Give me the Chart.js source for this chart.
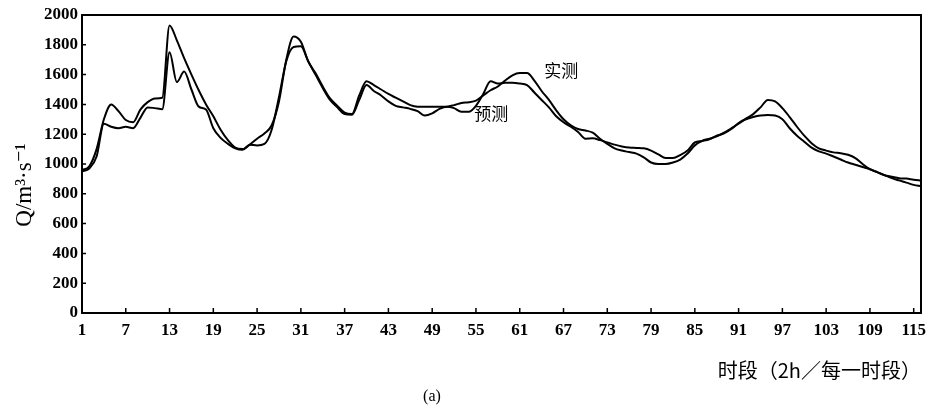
<!DOCTYPE html>
<html>
<head>
<meta charset="utf-8">
<script src="https://cdn.jsdelivr.net/npm/chart.js@4/dist/chart.umd.min.js"></script>
<style>
html, body { margin: 0; padding: 0; background: #fff; }
</style>
</head>
<body>
<canvas id="myChart" width="930" height="410"></canvas>
<script>
// 实测 / 预测 flow, one value per 2h period
var measured = [
  960, 985, 1100, 1300, 1400, 1355, 1295, 1280, 1365, 1415,
  1440, 1445, 1930, 1830, 1710, 1600, 1495, 1400, 1320, 1230,
  1160, 1110, 1100, 1130, 1170, 1205, 1260, 1420, 1700, 1855,
  1820, 1690, 1610, 1520, 1440, 1390, 1345, 1335, 1460, 1555,
  1530, 1500, 1470, 1445, 1420, 1395, 1385, 1385, 1385, 1385,
  1385, 1395, 1410, 1415, 1425, 1460, 1495, 1520, 1560, 1595,
  1610, 1610, 1560, 1490, 1430, 1360, 1300, 1260, 1235, 1225,
  1210, 1170, 1135, 1105, 1090, 1080, 1070, 1045, 1010, 1000,
  1000, 1010, 1030, 1070, 1125, 1155, 1170, 1185, 1210, 1240,
  1270, 1305, 1335, 1380, 1430, 1420, 1375, 1315, 1250, 1190,
  1140, 1105, 1090, 1078, 1072, 1062, 1040, 1000, 965, 945,
  925, 915, 905, 902, 895, 890
];
var predicted = [
  950, 970, 1050, 1270, 1250, 1240, 1250, 1240, 1310, 1380,
  1375, 1368, 1750, 1550, 1620, 1500, 1385, 1365, 1240, 1175,
  1135, 1105, 1095, 1130, 1125, 1135, 1230, 1450, 1690, 1785,
  1790, 1690, 1600, 1510, 1430, 1380, 1335, 1330, 1430, 1530,
  1490, 1460, 1420, 1390, 1380, 1370, 1355, 1325, 1340, 1370,
  1385, 1375, 1350, 1350, 1390, 1470, 1555, 1540, 1545, 1545,
  1540, 1530, 1480, 1430, 1380, 1320, 1280, 1250, 1215, 1170,
  1172, 1160, 1145, 1130, 1118, 1110, 1108, 1105, 1090, 1065,
  1040, 1040, 1060, 1090, 1145, 1155, 1165, 1190, 1205, 1235,
  1275, 1300, 1315, 1325, 1329, 1325, 1300, 1240, 1190, 1150,
  1110, 1085, 1070, 1050, 1030, 1010, 995, 980, 965, 945,
  925, 905, 890, 875, 860, 852
];
var periods = measured.map(function (v, i) { return i + 1; });
var xTicks = [1, 7, 13, 19, 25, 31, 37, 43, 49, 55, 61, 67, 73, 79, 85, 91, 97, 103, 109, 115];

var serif = '"Liberation Serif", "DejaVu Serif", serif';
var cjk = '"Noto Sans CJK SC", "Liberation Serif", sans-serif';

function points(arr) {
  return arr.map(function (v, i) { return {x: periods[i], y: v}; });
}

// box round the plot, inward ticks, and the loose texts
var frame = {
  id: 'frame',
  afterDatasetsDraw: function (chart) {
    var ctx = chart.ctx, a = chart.chartArea;
    var xs = chart.scales.x, ys = chart.scales.y;
    ctx.save();
    ctx.strokeStyle = '#000';
    ctx.lineWidth = 2;
    ctx.strokeRect(a.left, a.top, a.right - a.left, a.bottom - a.top);
    ctx.lineWidth = 1.5;
    ctx.beginPath();
    xTicks.forEach(function (t) {
      var px = xs.getPixelForValue(t);
      ctx.moveTo(px, a.bottom);
      ctx.lineTo(px, a.bottom - 5);
    });
    ys.ticks.forEach(function (t) {
      var py = ys.getPixelForValue(t.value);
      ctx.moveTo(a.left, py);
      ctx.lineTo(a.left + 4, py);
    });
    ctx.stroke();

    ctx.fillStyle = '#000';
    ctx.textAlign = 'center';
    ctx.textBaseline = 'middle';
    ctx.font = '17px ' + cjk;
    ctx.fillText('实测', xs.getPixelForValue(66.7), ys.getPixelForValue(1624));
    ctx.fillText('预测', xs.getPixelForValue(57.1), ys.getPixelForValue(1336));
    ctx.font = '16px ' + serif;
    ctx.fillText('(a)', 432, 397);
    ctx.translate(25, 185);
    ctx.rotate(-Math.PI / 2);
    ctx.font = '23px ' + serif;
    ctx.fillText('Q/m³·s⁻¹', 0, 0);
    ctx.restore();
  }
};

new Chart('myChart', {
  type: 'line',
  data: {
    datasets: [
      {label: '实测', data: points(measured), borderColor: '#000', borderWidth: 2,
       pointRadius: 0, cubicInterpolationMode: 'monotone'},
      {label: '预测', data: points(predicted), borderColor: '#000', borderWidth: 2,
       pointRadius: 0, cubicInterpolationMode: 'monotone'}
    ]
  },
  options: {
    responsive: false,
    animation: false,
    layout: {padding: {top: 15, right: 9, left: 0, bottom: 0}},
    plugins: {legend: {display: false}, tooltip: {enabled: false}},
    scales: {
      x: {
        type: 'linear', min: 1, max: 116,
        afterBuildTicks: function (s) { s.ticks = xTicks.map(function (v) { return {value: v}; }); },
        afterFit: function (s) { s.height = 97; s.paddingLeft = 0; s.paddingRight = 0; },
        grid: {display: false, drawTicks: false},
        border: {display: false},
        ticks: {
          color: '#000', padding: 7, maxRotation: 0, autoSkip: false,
          font: {family: serif, size: 17, weight: 'bold'},
          callback: function (v) { return String(v); }
        },
        title: {
          display: true, text: '时段（2h／每一时段）', align: 'end', color: '#000',
          font: {family: cjk, size: 20}, padding: {top: 0, bottom: 28}
        }
      },
      y: {
        min: 0, max: 2000,
        afterFit: function (s) { s.width = 82; },
        grid: {display: false, drawTicks: false},
        border: {display: false},
        ticks: {
          stepSize: 200, color: '#000', padding: 4,
          font: {family: serif, size: 17, weight: 'bold'},
          callback: function (v) { return String(v); }
        }
      }
    }
  },
  plugins: [frame]
});
</script>
</body>
</html>
